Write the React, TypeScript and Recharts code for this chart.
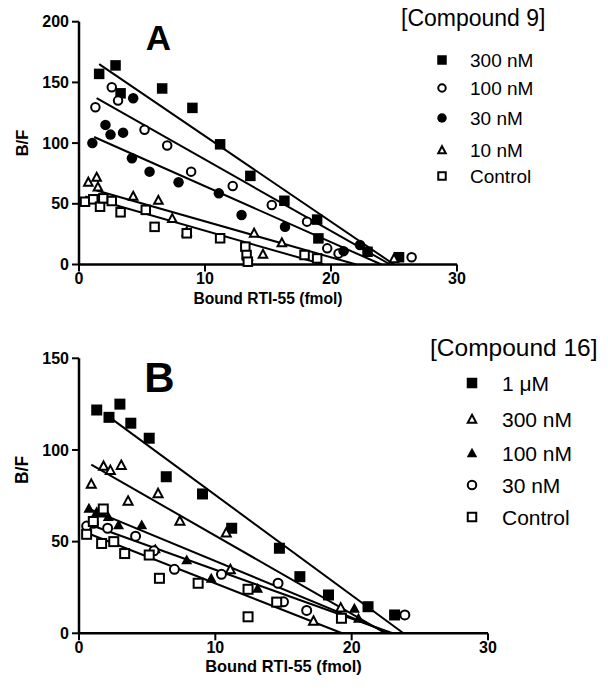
import React from "react";
import { Scatter, ScatterChart, XAxis, YAxis } from "recharts";

type Pt = { x: number; y: number };
type Kind =
  | "squareFilled"
  | "squareOpen"
  | "circleFilled"
  | "circleOpen"
  | "triFilled"
  | "triOpen";
type Series = { name: string; kind: Kind; points: Pt[]; fit: Pt[] };

const FONT = '"Liberation Sans", Arial, Helvetica, sans-serif';

// ---- panel A : [Compound 9] ----
const xTicksA = [0, 10, 20, 30];
const yTicksA = [0, 50, 100, 150, 200];

const a300: Pt[] = [
  { x: 1.6, y: 157 }, { x: 2.9, y: 164 }, { x: 3.3, y: 141 }, { x: 6.6, y: 145 },
  { x: 9.0, y: 129 }, { x: 11.2, y: 99 }, { x: 13.6, y: 73 }, { x: 16.3, y: 52.5 },
  { x: 18.9, y: 37 }, { x: 19.0, y: 21.5 }, { x: 22.9, y: 10.5 }, { x: 25.4, y: 6 },
];
const a100: Pt[] = [
  { x: 1.3, y: 129.5 }, { x: 2.6, y: 146 }, { x: 3.1, y: 135 }, { x: 5.2, y: 111 },
  { x: 7.0, y: 98 }, { x: 8.9, y: 76.5 }, { x: 12.2, y: 64.7 }, { x: 15.3, y: 49 },
  { x: 18.1, y: 35.3 }, { x: 19.7, y: 13.3 }, { x: 20.6, y: 9 }, { x: 26.4, y: 6 },
];
const a30: Pt[] = [
  { x: 1.06, y: 100 }, { x: 2.1, y: 115 }, { x: 2.5, y: 107 }, { x: 3.5, y: 108.6 },
  { x: 4.3, y: 137 }, { x: 4.2, y: 87.5 }, { x: 5.6, y: 76.5 }, { x: 7.9, y: 67.7 },
  { x: 11.1, y: 58.6 }, { x: 12.9, y: 40.8 }, { x: 16.35, y: 31 }, { x: 21.0, y: 11 },
  { x: 22.3, y: 16 },
];
const a10: Pt[] = [
  { x: 0.74, y: 68 }, { x: 1.4, y: 72 }, { x: 1.5, y: 64 }, { x: 4.3, y: 56.4 },
  { x: 6.3, y: 53 }, { x: 7.4, y: 38 }, { x: 8.55, y: 27 }, { x: 13.4, y: 7 },
  { x: 13.9, y: 26 }, { x: 14.6, y: 8.6 }, { x: 16.1, y: 18 }, { x: 25.0, y: 5 },
];
const aControl: Pt[] = [
  { x: 0.48, y: 51.7 }, { x: 1.13, y: 53.7 }, { x: 1.67, y: 47.6 }, { x: 1.93, y: 54.5 },
  { x: 2.6, y: 52.3 }, { x: 3.3, y: 43 }, { x: 5.3, y: 45 }, { x: 6.0, y: 31 },
  { x: 8.55, y: 25.7 }, { x: 11.2, y: 21.6 }, { x: 13.2, y: 14.7 }, { x: 13.3, y: 7.8 },
  { x: 13.4, y: 2.3 }, { x: 17.9, y: 7.8 }, { x: 18.9, y: 5 },
];

const fitA300: Pt[] = [{ x: 1.6, y: 165 }, { x: 25.0, y: 0 }];
const fitA100: Pt[] = [{ x: 1.4, y: 137 }, { x: 24.7, y: 0 }];
const fitA30: Pt[] = [{ x: 1.2, y: 105 }, { x: 24.0, y: 0 }];
const fitA10: Pt[] = [{ x: 1.4, y: 61 }, { x: 22.0, y: 0 }];
const fitAControl: Pt[] = [{ x: 0.5, y: 56 }, { x: 19.4, y: 0 }];

// ---- panel B : [Compound 16] ----
const xTicksB = [0, 10, 20, 30];
const xMinorTicksB = [
  0, 1, 2, 3, 4, 5, 6, 7, 8, 9, 10, 11, 12, 13, 14, 15, 16, 17, 18, 19, 20, 21, 22,
  23, 24, 25, 26, 27, 28, 29, 30,
];
const yTicksB = [0, 50, 100, 150];

const b1uM: Pt[] = [
  { x: 1.3, y: 121.8 }, { x: 2.2, y: 117.8 }, { x: 3.0, y: 125 }, { x: 3.8, y: 114.6 },
  { x: 5.15, y: 106.4 }, { x: 6.4, y: 85.4 }, { x: 9.06, y: 76 }, { x: 11.2, y: 57.3 },
  { x: 14.7, y: 46.4 }, { x: 16.2, y: 30.9 }, { x: 18.3, y: 20.9 }, { x: 21.2, y: 14.5 },
  { x: 23.15, y: 10 },
];
const b300: Pt[] = [
  { x: 0.9, y: 81.5 }, { x: 1.8, y: 91.3 }, { x: 2.3, y: 89 }, { x: 3.1, y: 91.8 },
  { x: 3.6, y: 72.3 }, { x: 5.8, y: 76.4 }, { x: 7.4, y: 61.4 }, { x: 10.8, y: 54.9 },
  { x: 11.1, y: 34.9 }, { x: 17.2, y: 6.8 }, { x: 19.2, y: 14 },
];
const b100: Pt[] = [
  { x: 0.73, y: 68.2 }, { x: 1.3, y: 66.3 }, { x: 1.7, y: 65.5 }, { x: 2.15, y: 63.6 },
  { x: 2.9, y: 59.1 }, { x: 4.6, y: 59.1 }, { x: 5.6, y: 46 }, { x: 7.9, y: 40 },
  { x: 9.7, y: 30 }, { x: 13.1, y: 24.5 }, { x: 20.2, y: 13.6 }, { x: 20.5, y: 8.2 },
];
const b30: Pt[] = [
  { x: 0.56, y: 58.5 }, { x: 1.05, y: 60 }, { x: 2.1, y: 57.3 }, { x: 4.15, y: 53 },
  { x: 5.5, y: 45 }, { x: 7.0, y: 34.9 }, { x: 10.45, y: 32.2 }, { x: 14.6, y: 27.3 },
  { x: 15.0, y: 17.2 }, { x: 16.7, y: 12.5 }, { x: 23.9, y: 10 },
];
const bControl: Pt[] = [
  { x: 0.56, y: 54 }, { x: 1.05, y: 61 }, { x: 1.66, y: 49 }, { x: 1.78, y: 67.8 },
  { x: 2.55, y: 50 }, { x: 3.35, y: 43.5 }, { x: 5.15, y: 42.7 }, { x: 5.9, y: 30 },
  { x: 8.74, y: 27.3 }, { x: 12.4, y: 24 }, { x: 12.4, y: 9 }, { x: 14.5, y: 17 },
  { x: 19.25, y: 8.2 },
];

const fitB1uM: Pt[] = [{ x: 2.5, y: 116.4 }, { x: 23.8, y: 0 }];
const fitB300: Pt[] = [{ x: 0.9, y: 92 }, { x: 22.5, y: 0 }];
const fitB100: Pt[] = [{ x: 0.7, y: 68 }, { x: 22.8, y: 0 }];
const fitB30: Pt[] = [{ x: 0.5, y: 60 }, { x: 23.0, y: 0 }];
const fitBControl: Pt[] = [{ x: 0.5, y: 55 }, { x: 19.3, y: 0 }];

const seriesA: Series[] = [
  { name: "300 nM", kind: "squareFilled", points: a300, fit: fitA300 },
  { name: "100 nM", kind: "circleOpen", points: a100, fit: fitA100 },
  { name: "30 nM", kind: "circleFilled", points: a30, fit: fitA30 },
  { name: "10 nM", kind: "triOpen", points: a10, fit: fitA10 },
  { name: "Control", kind: "squareOpen", points: aControl, fit: fitAControl },
];

const seriesB: Series[] = [
  { name: "1 \u03bcM", kind: "squareFilled", points: b1uM, fit: fitB1uM },
  { name: "300 nM", kind: "triOpen", points: b300, fit: fitB300 },
  { name: "100 nM", kind: "triFilled", points: b100, fit: fitB100 },
  { name: "30 nM", kind: "circleOpen", points: b30, fit: fitB30 },
  { name: "Control", kind: "squareOpen", points: bControl, fit: fitBControl },
];

const Marker = ({ cx, cy, kind, size }: { cx: number; cy: number; kind: Kind; size: number }) => {
  const h = size / 2;
  const sw = 2;
  switch (kind) {
    case "squareFilled":
      return <rect x={cx - h} y={cy - h} width={size} height={size} fill="#000" />;
    case "squareOpen":
      return (
        <rect x={cx - h + 1} y={cy - h + 1} width={size - 2} height={size - 2}
          fill="#fff" stroke="#000" strokeWidth={sw} />
      );
    case "circleFilled":
      return <circle cx={cx} cy={cy} r={h} fill="#000" />;
    case "circleOpen":
      return <circle cx={cx} cy={cy} r={h - 1} fill="#fff" stroke="#000" strokeWidth={sw} />;
    case "triFilled":
      return (
        <polygon points={`${cx},${cy - h} ${cx + h},${cy + h * 0.8} ${cx - h},${cy + h * 0.8}`}
          fill="#000" />
      );
    case "triOpen":
      return (
        <polygon
          points={`${cx},${cy - h + 1} ${cx + h - 1},${cy + h * 0.8 - 0.5} ${cx - h + 1},${cy + h * 0.8 - 0.5}`}
          fill="#fff" stroke="#000" strokeWidth={sw} strokeLinejoin="miter" />
      );
  }
  return null;
};

const axisLine = { stroke: "#000", strokeWidth: 2.5 };
const tickLine = { stroke: "#000", strokeWidth: 2 };
const tickStyle = { fill: "#000", fontSize: 16, fontWeight: "bold", fontFamily: FONT };

const Panel = ({
  series, height, margin, xTicks, yTicks, yMax, minorTicks, markerSize,
}: {
  series: Series[];
  height: number;
  margin: { top: number; right: number; bottom: number; left: number };
  xTicks: number[];
  yTicks: number[];
  yMax: number;
  minorTicks?: number[];
  markerSize: number;
}) => (
  <ScatterChart width={608} height={height} margin={margin}>
    <XAxis dataKey="x" type="number" domain={[0, 30]} ticks={xTicks} height={42}
      axisLine={axisLine} tickLine={tickLine} tickSize={7} tickMargin={1} tick={tickStyle} />
    {minorTicks && (
      <XAxis xAxisId="minor" dataKey="x" type="number" domain={[0, 30]} ticks={minorTicks}
        mirror height={4} axisLine={false} tick={false} tickSize={3}
        tickLine={{ stroke: "#000", strokeWidth: 1.5 }} />
    )}
    <YAxis dataKey="y" type="number" domain={[0, yMax]} ticks={yTicks} width={60}
      axisLine={axisLine} tickLine={tickLine} tickSize={7} tickMargin={3} tick={tickStyle} />
    {series.map((s) => (
      <Scatter key={s.name + "-fit"} data={s.fit} line={{ stroke: "#000", strokeWidth: 2 }}
        shape={() => <g />} isAnimationActive={false} />
    ))}
    {series.map((s) => (
      <Scatter key={s.name} data={s.points} isAnimationActive={false}
        shape={(p: any) => <Marker cx={p.cx} cy={p.cy} kind={s.kind} size={markerSize} />} />
    ))}
  </ScatterChart>
);

const LegendBlock = ({
  title, series, titleX, titleY, titleSize, symX, textX, rowsY, textSize, symSize,
}: {
  title: string;
  series: Series[];
  titleX: number;
  titleY: number;
  titleSize: number;
  symX: number;
  textX: number;
  rowsY: number[];
  textSize: number;
  symSize: number;
}) => (
  <g>
    <text x={titleX} y={titleY} fontSize={titleSize} dominantBaseline="central" fill="#000">
      {title}
    </text>
    {series.map((s, i) => (
      <g key={s.name}>
        <Marker cx={symX} cy={rowsY[i]} kind={s.kind} size={symSize} />
        <text x={textX} y={rowsY[i]} fontSize={textSize} dominantBaseline="central" fill="#000">
          {s.name}
        </text>
      </g>
    ))}
  </g>
);

export default function App() {
  return (
    <div style={{ position: "absolute", left: 0, top: 0, width: 608, height: 694, background: "#fff", fontFamily: FONT }}>
      <div style={{ position: "absolute", left: 0, top: 0 }}>
        <Panel series={seriesA} height={320}
          margin={{ top: 21.7, right: 151, bottom: 13.5, left: 19 }}
          xTicks={xTicksA} yTicks={yTicksA} yMax={200} markerSize={10.5} />
      </div>
      <div style={{ position: "absolute", left: 0, top: 330 }}>
        <Panel series={seriesB} height={364}
          margin={{ top: 28.3, right: 120, bottom: 18.7, left: 19 }}
          xTicks={xTicksB} yTicks={yTicksB} yMax={150} minorTicks={xMinorTicksB} markerSize={11} />
      </div>
      <svg width={608} height={694} style={{ position: "absolute", left: 0, top: 0, pointerEvents: "none", fontFamily: FONT }}>
        <text x={158.5} y={37} fontSize={35} fontWeight="bold" textAnchor="middle" dominantBaseline="central">A</text>
        <text x={159.5} y={377} fontSize={42} fontWeight="bold" textAnchor="middle" dominantBaseline="central">B</text>
        <text x={268} y={298} fontSize={15.6} fontWeight="bold" textAnchor="middle" dominantBaseline="central">
          Bound RTI-55 (fmol)
        </text>
        <text x={283.5} y={666} fontSize={16.4} fontWeight="bold" textAnchor="middle" dominantBaseline="central">
          Bound RTI-55 (fmol)
        </text>
        <text x={22} y={143} fontSize={16.5} fontWeight="bold" textAnchor="middle" dominantBaseline="central"
          transform="rotate(-90 22 143)">B/F</text>
        <text x={22} y={470} fontSize={17.5} fontWeight="bold" textAnchor="middle" dominantBaseline="central"
          transform="rotate(-90 22 470)">B/F</text>
        <LegendBlock title="[Compound 9]" series={seriesA} titleX={401} titleY={18} titleSize={23}
          symX={442} textX={470} rowsY={[60, 88, 118, 150, 176]} textSize={19} symSize={9.5} />
        <LegendBlock title="[Compound 16]" series={seriesB} titleX={430} titleY={347} titleSize={24.5}
          symX={472} textX={502} rowsY={[383, 419, 453, 485, 517]} textSize={21} symSize={10.5} />
      </svg>
    </div>
  );
}
